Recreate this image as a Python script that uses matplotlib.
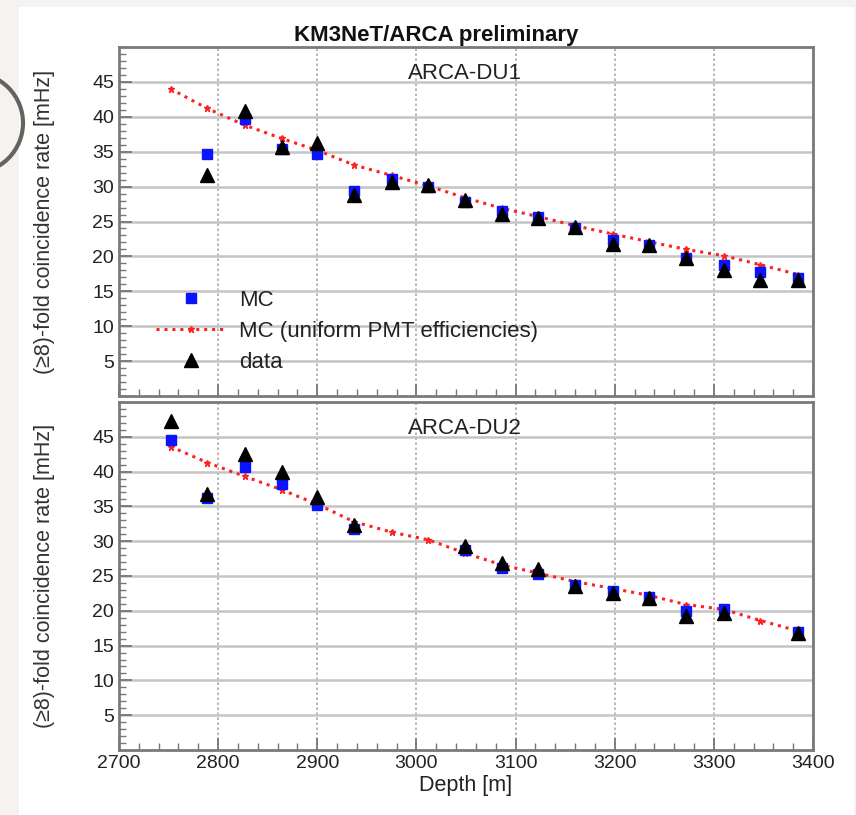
import matplotlib
matplotlib.use("Agg")
import matplotlib.pyplot as plt
from matplotlib.patches import Rectangle, Circle
from matplotlib.ticker import MultipleLocator, FixedLocator

plt.rcParams['font.family'] = ['Liberation Sans', 'DejaVu Sans']

# depth of each DOM [m]
depth = [2752, 2789, 2827, 2864, 2900, 2937, 2975, 3012, 3049,
         3086, 3123, 3160, 3198, 3235, 3272, 3310, 3347, 3385]

# ARCA-DU1 (first DOM has no MC / data)
du1_depth = depth[1:]
du1_mc = [34.7, 39.7, 35.4, 34.7, 29.4, 31.1, 29.9, 27.8,
          26.5, 25.6, 24.1, 22.3, 21.7, 19.7, 18.7, 17.7, 16.9]
du1_data = [31.7, 40.9, 35.7, 36.2, 28.8, 30.6, 30.3, 28.1,
            26.1, 25.5, 24.2, 21.8, 21.7, 19.8, 18.0, 16.6, 16.6]
du1_uniform = [44.0, 41.2, 38.8, 36.9, 35.2, 33.1, 31.6, 30.1, 28.4,
               26.9, 25.7, 24.4, 23.2, 22.1, 21.0, 20.1, 18.8, 17.4]

# ARCA-DU2 (no MC / data at 2975, 3012 and 3347 m)
du2_depth = [2752, 2789, 2827, 2864, 2900, 2937, 3049, 3086,
             3123, 3160, 3198, 3235, 3272, 3310, 3385]
du2_mc = [44.6, 36.2, 40.7, 38.2, 35.2, 31.7, 28.7, 26.1,
          25.3, 23.7, 22.9, 22.0, 19.9, 20.2, 17.0]
du2_data = [47.2, 36.8, 42.5, 40.0, 36.4, 32.3, 29.3, 26.8,
            26.0, 23.5, 22.5, 21.8, 19.2, 19.7, 16.8]
du2_uniform = [43.6, 41.3, 39.3, 37.4, 35.3, 32.8, 31.3, 30.2, 28.3,
               26.6, 25.4, 24.2, 23.2, 22.2, 20.9, 20.2, 18.6, 17.1]

W, H = 856, 815
fig = plt.figure(figsize=(W / 100, H / 100), dpi=100)
fig.patch.set_facecolor('#f4f3f1')

# background layer in pixel coordinates
bg = fig.add_axes([0, 0, 1, 1], zorder=-10)
bg.set_xlim(0, W)
bg.set_ylim(H, 0)
bg.axis('off')
bg.add_patch(Rectangle((19, 7), 835, 810, facecolor='white', edgecolor='none'))
bg.add_patch(Circle((-27, 123), 50, facecolor='none', edgecolor='#66625e', lw=3, clip_on=False))


def px_axes(left, top, right, bottom):
    return fig.add_axes([left / W, 1 - bottom / H, (right - left) / W, (bottom - top) / H])


ax1 = px_axes(119, 47, 813, 396)
ax2 = px_axes(119, 402, 813, 750)

ylab = '(\u22658)-fold coincidence rate [mHz]'
for ax, d, mc, data, uni, name in [(ax1, du1_depth, du1_mc, du1_data, du1_uniform, 'ARCA-DU1'),
                                   (ax2, du2_depth, du2_mc, du2_data, du2_uniform, 'ARCA-DU2')]:
    ax.set_facecolor('none')
    ax.set_xlim(2700, 3400)
    ax.set_ylim(0, 50)
    ax.plot(depth, uni, color='#ff2020', ls=(0, (1, 1.6)), lw=2.2, marker='*', ms=5,
            label='MC (uniform PMT efficiencies)', zorder=3)
    ax.plot(d, mc, ls='none', marker='s', ms=7.5, color='#0a14ff', label='MC', zorder=4)
    ax.plot(d, data, ls='none', marker='^', ms=9.5, color='black', label='data', zorder=5)

    ax.yaxis.set_major_locator(FixedLocator([5, 10, 15, 20, 25, 30, 35, 40, 45]))
    ax.yaxis.set_minor_locator(MultipleLocator(1))
    ax.xaxis.set_major_locator(MultipleLocator(100))
    ax.xaxis.set_minor_locator(MultipleLocator(20))
    ax.tick_params(which='both', direction='in', color='#777777', labelsize=14,
                   labelcolor='#222222', top=False, right=False)
    ax.tick_params(which='major', length=9, width=1.3)
    ax.tick_params(which='minor', length=5, width=1.0)
    ax.grid(axis='y', which='major', color='#c4c4c4', lw=1.8, ls='-')
    ax.grid(axis='x', which='major', color='#aaaaaa', lw=1.2, ls=(0, (1.5, 1.5)))
    ax.set_axisbelow(True)
    for s in ax.spines.values():
        s.set_color('#7a7a7a')
        s.set_linewidth(2)
    ax.text(0.498, 0.955, name, transform=ax.transAxes, ha='center', va='top',
            fontsize=16, color='#222222')
    ax.set_ylabel(ylab, fontsize=15.5, color='#333333', labelpad=27)

ax1.tick_params(axis='x', labelbottom=False)
ax2.set_xlabel('Depth [m]', fontsize=15.5, color='#222222', labelpad=2)
fig.text(436 / W, 1 - 36 / H, 'KM3NeT/ARCA preliminary', ha='center', va='center',
         fontsize=16, fontweight='bold', color='#111111')

h, l = ax1.get_legend_handles_labels()
order = [1, 0, 2]
ax1.legend([h[i] for i in order], [l[i] for i in order], loc='lower left',
           bbox_to_anchor=(0.024, 0.01), frameon=False, fontsize=16,
           handlelength=3.2, handletextpad=0.55, labelspacing=0.45,
           labelcolor='#222222')

fig.savefig('out.png', dpi=100, facecolor=fig.get_facecolor())
